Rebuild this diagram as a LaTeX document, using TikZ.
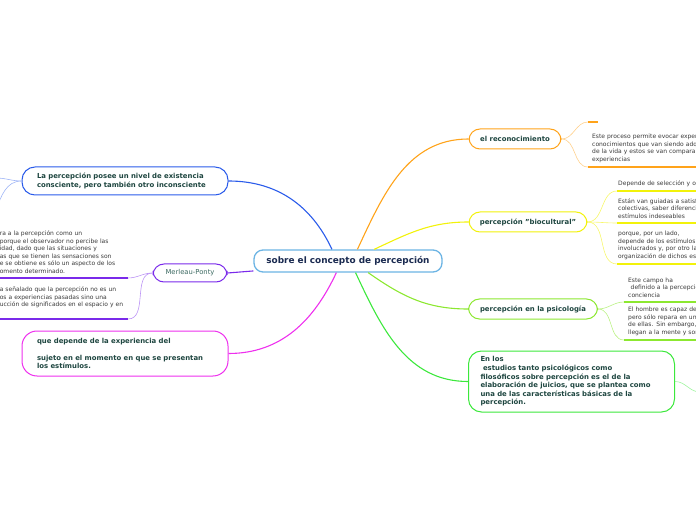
\documentclass[tikz,border=0pt]{standalone}
\usepackage{fontspec}
\setmainfont{DejaVu Sans}
\definecolor{hubline}{HTML}{6CB4E4}
\definecolor{hubtxt}{HTML}{1A2A50}
\definecolor{toptxt}{HTML}{1E4640}
\definecolor{subtxt}{HTML}{3A3A3A}
\definecolor{mptxt}{HTML}{3C6A62}
\definecolor{orngc}{HTML}{FFA31A}
\definecolor{yllwc}{HTML}{F2F20A}
\definecolor{limec}{HTML}{8CE830}
\definecolor{grnc}{HTML}{3CE83C}
\definecolor{bluc}{HTML}{2A5BEA}
\definecolor{prpc}{HTML}{7A2AEA}
\definecolor{mgnc}{HTML}{EE30EE}

\begin{document}
\begin{tikzpicture}[x=1pt, y=1pt, every node/.style={font=\fontsize{6}{7.5}\selectfont, text=subtxt}, hub/.style={draw=hubline, line width=1.3pt, rounded corners=9pt, fill=white, minimum width=188pt, minimum height=22pt, font=\fontsize{8.9}{10}\selectfont\bfseries, text=hubtxt}, topic/.style={rounded corners=11pt, fill=white, line width=1pt, minimum height=20pt, font=\fontsize{6.9}{8.6}\selectfont\bfseries, text=toptxt}, item/.style={anchor=south west, align=left, text width=200pt, inner xsep=0pt, inner ysep=4.5pt}, ul/.style={line width=1.8pt}, br/.style={line width=1.1pt}, tw/.style={line width=0.6pt}]
	\useasboundingbox (0,0) rectangle (696,520);
	\clip (0,0) rectangle (696,520);
	\node[hub] (C) at (348,259) {sobre el concepto de percepción};
	\node[topic, draw=orngc, minimum width=92pt] (R) at (515,381) {el reconocimiento};
	\node[topic, draw=yllwc, minimum width=118pt] (B) at (528,298) {percepción "biocultural"};
	\node[topic, draw=limec, minimum width=129pt] (P) at (533,211) {percepción en la psicología};
	\node[topic, draw=grnc, text width=182pt, align=left, inner xsep=12pt, minimum height=61pt, rounded corners=13pt] (E) at (571.5,138.5) {En los\\\hspace*{2.5pt}estudios tanto psicológicos como\\filosóficos sobre percepción es el de la\\elaboración de juicios, que se plantea como\\una de las características básicas de la\\percepción.};
	\node[topic, draw=bluc, text width=176pt, align=left, inner xsep=15pt, minimum height=28pt, rounded corners=13pt] (L) at (125,339) {La percepción posee un nivel de existencia\\consciente, pero también otro inconsciente};
	\node[topic, draw=prpc, minimum width=74pt, minimum height=18pt, font=\fontsize{6.8}{8}\selectfont, text=mptxt] (M) at (190,247) {Merleau-Ponty};
	\node[topic, draw=mgnc, text width=176pt, align=left, inner xsep=15pt, minimum height=45pt, rounded corners=15pt] (Q) at (125,166.5) {que depende de la experiencia del\\[8.6pt]sujeto en el momento en que se presentan\\los estímulos.};
	\draw[br, orngc] (C.51) to[out=65, in=180] (R.west);
	\draw[br, yllwc] (C.24) to[out=25, in=180] (B.west);
	\draw[br, limec] (C.-30) to[out=-35, in=180] (P.west);
	\draw[br, grnc] (C.-57) to[out=-65, in=180] (E.west);
	\draw[br, bluc] (C.144) to[out=115, in=0] (L.east);
	\draw[br, mgnc] (C.-135) to[out=-115, in=0] (Q.east);
	\draw[br, prpc] (M.east) -- (C.186);
	\node[item, text width=10pt] (r0) at (588,398) {};
	\node[item, inner xsep=4pt] (r1) at (588,353) {Este proceso permite evocar experiencias y\\conocimientos que van siendo adquiridos a lo largo\\de la vida y estos se van comparando con nuevas\\experiencias};
	\node[item, inner xsep=1pt] (b1) at (617,329) {Depende de selección y organización};
	\node[item, inner xsep=1pt] (b2) at (617,297) {Están van guiadas a satisfacer necesidades\\colectivas, saber diferenciar los estímulos\\estímulos indeseables};
	\node[item, inner xsep=1pt] (b3) at (617,256) {porque, por un lado,\\depende de los estímulos físicos\\involucrados y, por otro lado, de la\\organización de dichos estímulos};
	\node[item, inner xsep=4pt] (p1) at (624,218) {Este campo ha\\\hspace*{2.5pt}definido a la percepción como\\conciencia};
	\node[item, inner xsep=4pt] (p2) at (624,180) {El hombre es capaz de buscar\\pero sólo repara en unas pocas\\de ellas. Sin embargo, hay otras\\llegan a la mente y son percibidas};
	\node[item, anchor=south east, text width=128pt] (m1) at (128,242) {ra a la percepción como un\\porque el observador no percibe las\\idad, dado que las situaciones y\\as que se tienen las sensaciones son\\e se obtiene es sólo un aspecto de los\\omento determinado.};
	\node[item, anchor=south east, text width=128pt] (m2) at (128,201) {a señalado que la percepción no es un\\os a experiencias pasadas sino una\\ucción de significados en el espacio y en\\\mbox{}};
	\coordinate (l1) at (-4,342);
	\coordinate (l2) at (-4,310);
	\coordinate (e1) at (700,128);
	\draw[tw, orngc!50] (R.east) to[out=0, in=180] (r0.south west);
	\draw[tw, orngc!50] (R.east) to[out=0, in=180] (r1.south west);
	\draw[tw, yllwc!60] (B.east) to[out=0, in=180] (b1.south west);
	\draw[tw, yllwc!60] (B.east) to[out=0, in=180] (b2.south west);
	\draw[tw, yllwc!60] (B.east) to[out=0, in=180] (b3.south west);
	\draw[tw, limec!60] (P.east) to[out=0, in=180] (p1.south west);
	\draw[tw, limec!60] (P.east) to[out=0, in=180] (p2.south west);
	\draw[tw, prpc!50] (M.west) to[out=180, in=0] (m1.south east);
	\draw[tw, prpc!50] (M.west) to[out=180, in=0] (m2.south east);
	\draw[tw, bluc!45] (L.west) to[out=180, in=0] (l1);
	\draw[tw, bluc!45] (L.west) to[out=180, in=70] (l2);
	\draw[tw, grnc!50] (E.east) to[out=0, in=180] (e1);
	\draw[ul, orngc] (r0.south west) -- (r0.south east);
	\draw[ul, orngc] (r1.south west) -- (r1.south east);
	\draw[ul, yllwc] (b1.south west) -- (b1.south east);
	\draw[ul, yllwc] (b2.south west) -- (b2.south east);
	\draw[ul, yllwc] (b3.south west) -- (b3.south east);
	\draw[ul, limec] (p1.south west) -- (p1.south east);
	\draw[ul, limec] (p2.south west) -- (p2.south east);
	\draw[ul, prpc] (m1.south west) -- (m1.south east);
	\draw[ul, prpc] (m2.south west) -- (m2.south east);
\end{tikzpicture}
\end{document}
